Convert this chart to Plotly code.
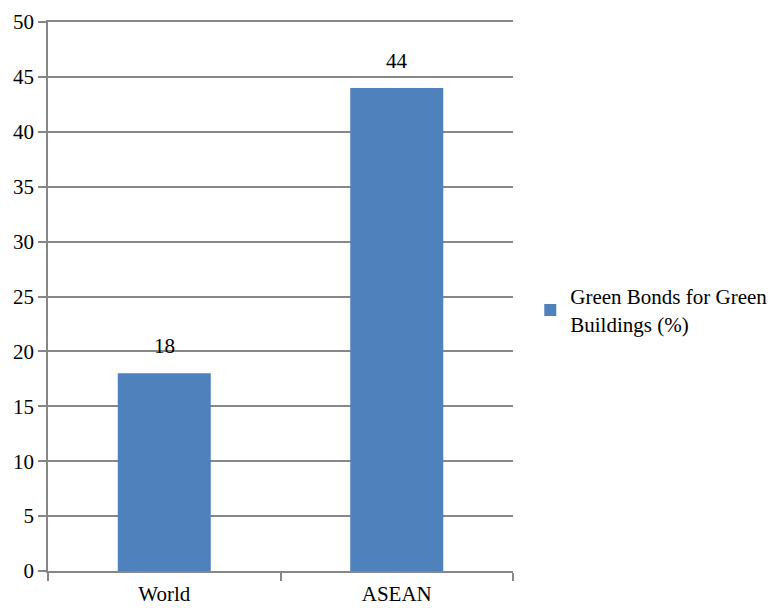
import plotly.graph_objects as go

categories = ["World", "ASEAN"]
values = [18, 44]
series_name = "Green Bonds for Green<br>Buildings (%)"
y_ticks = list(range(0, 51, 5))

font = dict(family="Liberation Serif, Times New Roman, serif", size=21, color="#000000")
grid = "#878787"

fig = go.Figure()
fig.add_trace(go.Bar(
    x=categories,
    y=values,
    name=series_name,
    marker=dict(color="#4F81BD", line=dict(width=0)),
    showlegend=True,
))

for c, v in zip(categories, values):
    fig.add_annotation(x=c, y=v, text=str(v), showarrow=False,
                       yanchor="middle", yshift=27, font=font)

fig.update_layout(
    width=773, height=608,
    margin=dict(l=48, r=260, t=22, b=37, autoexpand=False),
    paper_bgcolor="white", plot_bgcolor="white",
    font=font,
    bargap=0.6,
    showlegend=True,
    legend=dict(xref="container", yref="container", x=0.686, y=0.49,
                xanchor="left", yanchor="middle",
                font=font, bgcolor="rgba(0,0,0,0)", itemwidth=30),
)
fig.update_xaxes(
    type="category", tickson="boundaries", ticks="outside", ticklen=8,
    tickcolor=grid, tickwidth=1.5, showline=True, linecolor=grid, linewidth=1.5,
    mirror=True, showgrid=False, tickfont=font, automargin=False,
    ticklabelstandoff=3,
)
fig.update_yaxes(
    range=[0, 50], tickvals=y_ticks, ticks="outside", ticklen=8,
    tickcolor=grid, tickwidth=1.5, showline=True, linecolor=grid, linewidth=1.5,
    showgrid=True, gridcolor=grid, gridwidth=1.5, zeroline=False, tickfont=font,
    automargin=False,
)

fig.write_html("out.html")
